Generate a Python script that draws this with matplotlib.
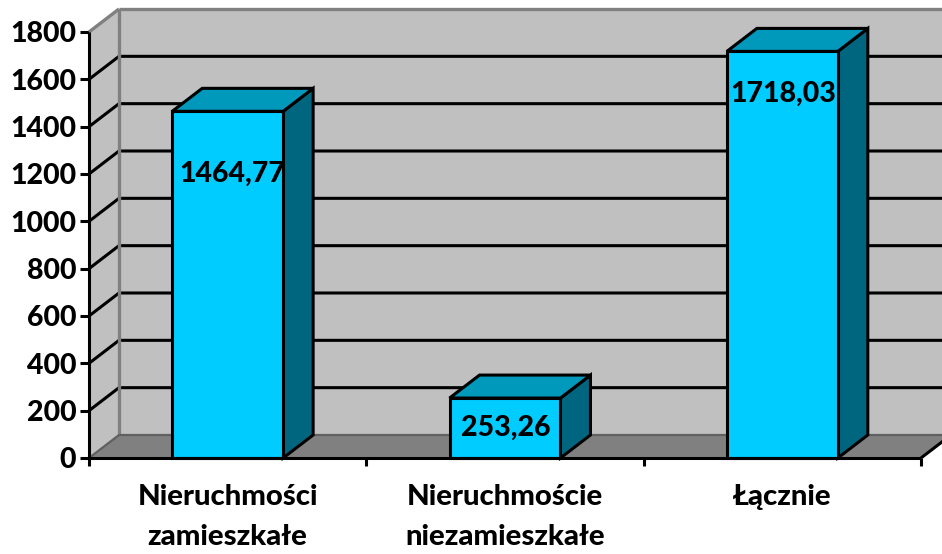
import matplotlib
matplotlib.use('Agg')
import matplotlib.pyplot as plt
from matplotlib.patches import Polygon

# Dane
kategorie = ['Nieruchmości\nzamieszkałe', 'Nieruchmoście\nniezamieszkałe', 'Łącznie']
wartosci = [1464.77, 253.26, 1718.03]
etykiety = ['1464,77', '253,26', '1718,03']
y_ticks = [0, 200, 400, 600, 800, 1000, 1200, 1400, 1600, 1800]

# Rozmiar w pikselach
W, H = 942, 554
left, right, top, bottom = 89, 921, 32, 458

# Wysokosc etykiety jako czesc slupka
label_pos = [0.82, 0.50, 0.895]
label_dx = [0.016, 0.003, 0.003]

plt.rcParams['font.family'] = ['Lato', 'DejaVu Sans']

fig = plt.figure(figsize=(W / 100, H / 100), dpi=100, facecolor='white')
ax = fig.add_axes([left / W, 1 - bottom / H, (right - left) / W, (bottom - top) / H])
ax.set_xlim(0, 3)
ax.set_ylim(0, 1800)
for s in ax.spines.values():
    s.set_visible(False)
ax.patch.set_visible(False)

# Glebokosc 3D w jednostkach danych
dx = 30 / ((right - left) / 3)
dy = 23 / ((bottom - top) / 1800)
bar_w = 0.40
lw = 2.2
waga = 900
rozmiar = 20.5


def poly(pts, fc, ec='none', z=1, w=lw):
    ax.add_patch(Polygon(pts, closed=True, facecolor=fc, edgecolor=ec, linewidth=w,
                         zorder=z, clip_on=False, joinstyle='miter'))


def line(xs, ys, c='black', z=2, w=lw):
    ax.plot(xs, ys, color=c, linewidth=w, zorder=z, clip_on=False, solid_capstyle='butt')


# Sciany i podloga
xr = 3 + dx
poly([(dx, dy), (xr, dy), (xr, 1800 + dy), (dx, 1800 + dy)], '#C0C0C0')
poly([(0, 0), (dx, dy), (dx, 1800 + dy), (0, 1800)], '#C0C0C0')
poly([(0, 0), (3, 0), (xr, dy), (dx, dy)], '#808080')

# Siatka
for v in y_ticks[1:-1]:
    line([0, dx, xr], [v, v + dy, v + dy])

# Obramowanie scian
line([dx, dx], [dy, 1800 + dy], '#808080', 3, 2.4)
line([dx, xr], [1800 + dy, 1800 + dy], '#808080', 3, 2.4)
line([0, dx], [1800, 1800 + dy], '#808080', 3, 2.4)
line([dx, xr], [dy, dy], '#606060', 3, 1.6)
line([0, dx], [0, dy], '#606060', 3, 1.6)
line([3, xr], [0, dy], 'black', 3)

# Slupki
for i, v in enumerate(wartosci):
    x0 = i + 0.5 - bar_w / 2
    x1 = i + 0.5 + bar_w / 2
    poly([(x1, 0), (x1 + dx, dy), (x1 + dx, v + dy), (x1, v)], '#006680', 'black', 4)
    poly([(x0, v), (x1, v), (x1 + dx, v + dy), (x0 + dx, v + dy)], '#0099BB', 'black', 4)
    ax.bar(i + 0.5, v, width=bar_w, color='#00CCFF', edgecolor='black', linewidth=lw,
           zorder=5, clip_on=False)
    ax.text(i + 0.5 + label_dx[i], v * label_pos[i], etykiety[i], ha='center', va='center',
            fontsize=rozmiar, fontweight=waga, color='black', zorder=6, clip_on=False)

# Osie
line([0, 0], [0, 1800], z=6)
line([0, 3], [0, 0], z=6)
ax.set_yticks(y_ticks)
ax.set_yticklabels([str(v) for v in y_ticks], fontsize=rozmiar, fontweight=waga)
ax.tick_params(axis='y', length=6.5, width=lw, pad=2.7)
ax.set_xticks([0, 1, 2, 3])
ax.set_xticklabels([])
ax.tick_params(axis='x', which='major', length=5.5, width=lw)
ax.set_xticks([0.5, 1.5, 2.5], minor=True)
ax.set_xticklabels(kategorie, minor=True, fontsize=21.2, fontweight=waga, linespacing=1.66)
ax.tick_params(axis='x', which='minor', length=0, pad=19)

fig.savefig('out.png', dpi=100)
